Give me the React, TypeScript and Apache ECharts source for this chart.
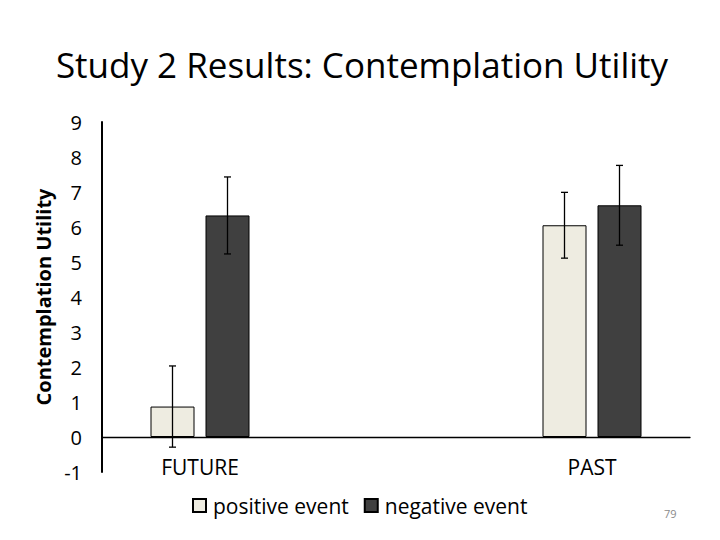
import React, { useEffect, useRef } from "react";
import * as echarts from "echarts";

const categories = ["FUTURE", "", "PAST"];
const seriesNames = ["positive event", "negative event"];
const positiveValues = [0.87, null, 6.05];
const negativeValues = [6.33, null, 6.62];
const positiveErrors = [1.16, null, 0.94];
const negativeErrors = [1.1, null, 1.14];
const yTicks = { min: -1, max: 9, interval: 1 };

const FONT = "'Open Sans', 'Noto Sans', sans-serif";
const BAR_WIDTH = 44;
const BAR_GAP = 11;

export default function App() {
  const ref = useRef<HTMLDivElement>(null);

  useEffect(() => {
    if (!ref.current) return;
    const chart = echarts.init(ref.current, null, { renderer: "svg" });

    const errData: any[] = [];
    [positiveValues, negativeValues].forEach((vals, si) => {
      const errs = si === 0 ? positiveErrors : negativeErrors;
      vals.forEach((v, ci) => {
        const e = errs[ci];
        if (v == null || e == null) return;
        errData.push([ci, v - e, v + e, si]);
      });
    });

    const option: any = {
      animation: false,
      backgroundColor: "#ffffff",
      title: {
        text: "Study 2 Results: Contemplation Utility",
        left: 357,
        textAlign: "center",
        top: 42,
        textStyle: { fontFamily: FONT, fontSize: 35, fontWeight: "normal", color: "#000" },
      },
      legend: {
        data: seriesNames,
        left: 187,
        top: 490,
        icon: "rect",
        itemWidth: 13,
        itemHeight: 13,
        itemGap: 15,
        textStyle: { fontFamily: FONT, fontSize: 21, color: "#000", padding: [0, 0, 0, 2] },
      },
      graphic: [
        {
          type: "text",
          left: 664,
          top: 508,
          style: { text: "79", fontFamily: FONT, fontSize: 11, fill: "#8a8a8a" },
        },
      ],
      grid: { left: 102, right: 30, top: 122, bottom: 68 },
      xAxis: {
        type: "category",
        data: categories,
        axisLine: { onZero: true, lineStyle: { color: "#000", width: 1.3 } },
        axisTick: { show: false },
        axisLabel: { fontFamily: FONT, fontSize: 21, color: "#000", margin: -16 },
        splitLine: { show: false },
      },
      yAxis: {
        type: "value",
        min: yTicks.min,
        max: yTicks.max,
        interval: yTicks.interval,
        name: "Contemplation Utility",
        nameLocation: "middle",
        nameGap: 42,
        nameTextStyle: { fontFamily: FONT, fontSize: 20, fontWeight: "bold", color: "#000" },
        axisLine: { show: true, lineStyle: { color: "#000", width: 2 } },
        axisTick: { show: false },
        axisLabel: { fontFamily: FONT, fontSize: 20, color: "#000", margin: 20 },
        splitLine: { show: false },
      },
      series: [
        {
          name: seriesNames[0],
          type: "bar",
          data: positiveValues,
          barWidth: BAR_WIDTH,
          barGap: (BAR_GAP / BAR_WIDTH) * 100 + "%",
          itemStyle: { color: "#EEECE1", borderColor: "#000", borderWidth: 1 },
        },
        {
          name: seriesNames[1],
          type: "bar",
          data: negativeValues,
          barWidth: BAR_WIDTH,
          itemStyle: { color: "#404040", borderColor: "#000", borderWidth: 1 },
        },
        {
          type: "custom",
          name: "errors",
          data: errData,
          z: 10,
          renderItem: (params: any, api: any) => {
            const ci = api.value(0);
            const lo = api.value(1);
            const hi = api.value(2);
            const si = api.value(3);
            const off = (si === 0 ? -1 : 1) * (BAR_WIDTH + BAR_GAP) / 2;
            const pLo = api.coord([ci, lo]);
            const pHi = api.coord([ci, hi]);
            const x = pLo[0] + off;
            const cap = 3.5;
            const style = { stroke: "#000", lineWidth: 1.3 };
            return {
              type: "group",
              children: [
                { type: "line", shape: { x1: x, y1: pLo[1], x2: x, y2: pHi[1] }, style },
                { type: "line", shape: { x1: x - cap, y1: pHi[1], x2: x + cap, y2: pHi[1] }, style },
                { type: "line", shape: { x1: x - cap, y1: pLo[1], x2: x + cap, y2: pLo[1] }, style },
              ],
            };
          },
        },
      ],
    };

    chart.setOption(option);
    return () => chart.dispose();
  }, []);

  return (
    <div
      ref={ref}
      style={{ position: "fixed", left: 0, top: 0, width: 720, height: 540, background: "#fff" }}
    />
  );
}
